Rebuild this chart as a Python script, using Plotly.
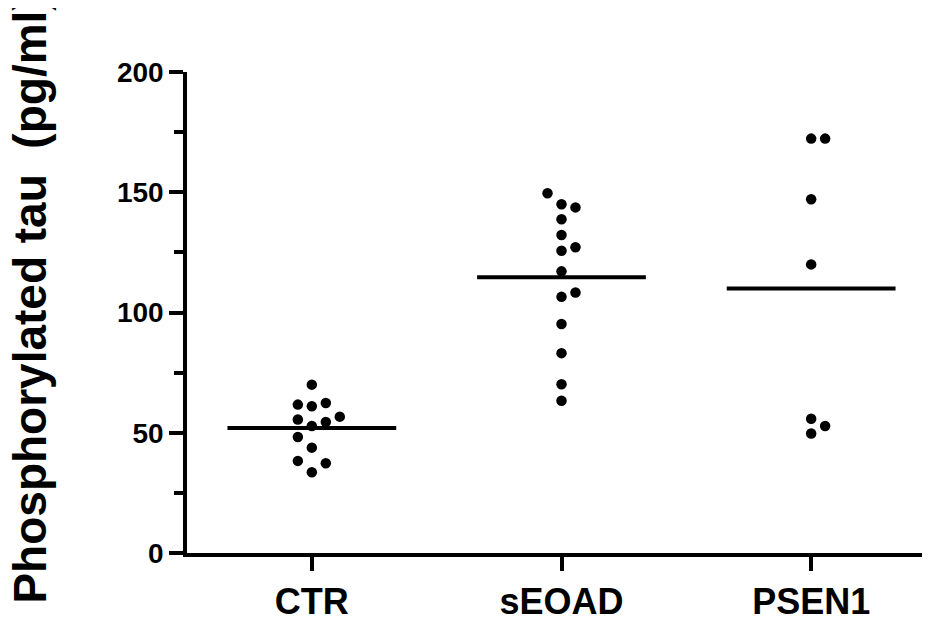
import plotly.graph_objects as go

# ---- data ----
CATEGORIES = ["CTR", "sEOAD", "PSEN1"]
CTR_VALUES = [70.0, 61.7, 61.0, 62.4, 55.5, 54.5, 56.7, 52.8, 48.2, 43.8, 38.3, 37.3, 33.6]
SEOAD_VALUES = [149.6, 145.0, 143.7, 138.8, 132.2, 125.7, 127.1, 117.1, 106.5, 108.3, 95.2, 83.1, 70.2, 63.3]
PSEN1_VALUES = [172.3, 172.3, 147.1, 120.0, 55.8, 52.8, 49.7]
Y_TICKS = [0, 50, 100, 150, 200]

# ---- layout: side-by-side slots of the dots (scatter-dot layout) ----
CTR_SLOTS = [0, -1, 0, 1, -1, 1, 2, 0, -1, 0, -1, 1, 0]
SEOAD_SLOTS = [-1, 0, 1, 0, 0, 0, 1, 0, 0, 1, 0, 0, 0, 0]
PSEN1_SLOTS = [0, 1, 0, 0, 0, 1, 0]
SLOT_STEP = 0.056
HALF_LINE = 0.338

groups = [CTR_VALUES, SEOAD_VALUES, PSEN1_VALUES]
slots = [CTR_SLOTS, SEOAD_SLOTS, PSEN1_SLOTS]

fig = go.Figure()
for i, (vals, sl) in enumerate(zip(groups, slots)):
    xs = [i + s * SLOT_STEP for s in sl]
    fig.add_trace(go.Scatter(
        x=xs, y=vals, mode="markers",
        marker=dict(size=10.5, color="black"),
        showlegend=False, hoverinfo="y"))
    mean = sum(vals) / len(vals)
    fig.add_trace(go.Scatter(
        x=[i - HALF_LINE, i + HALF_LINE], y=[mean, mean], mode="lines",
        line=dict(color="black", width=4), showlegend=False, hoverinfo="skip"))

# page body has an 8px margin, so the figure is sized/shifted to compensate
fig.update_layout(
    width=922, height=614,
    margin=dict(l=179, r=0, t=64, b=66),
    paper_bgcolor="white", plot_bgcolor="white",
    font=dict(family="Liberation Sans, Arial, sans-serif", color="black"),
)
fig.update_xaxes(
    range=[-0.5, 2.476], tickvals=[0, 1, 2], ticktext=CATEGORIES,
    showgrid=False, zeroline=False, showline=True, linecolor="black", linewidth=3.5,
    ticks="outside", ticklen=14, tickwidth=3.5, tickcolor="black",
    tickfont=dict(size=36, weight="bold"),
)
fig.update_yaxes(
    range=[0, 200], tickvals=Y_TICKS,
    showgrid=False, zeroline=False, showline=True, linecolor="black", linewidth=3.5,
    ticks="outside", ticklen=14, tickwidth=3.5, tickcolor="black",
    tickfont=dict(size=28, weight="bold"),
    minor=dict(dtick=25, ticks="outside", ticklen=9, tickwidth=3.5, tickcolor="black"),
)
fig.add_annotation(
    text="Phosphorylated tau  (pg/ml)", textangle=-90,
    xref="paper", yref="paper", x=(22 - 179) / 743, y=(548 - 293) / 484,
    xanchor="center", yanchor="middle", showarrow=False,
    font=dict(size=46, weight="bold", color="black"),
)
fig.write_html("out.html")
